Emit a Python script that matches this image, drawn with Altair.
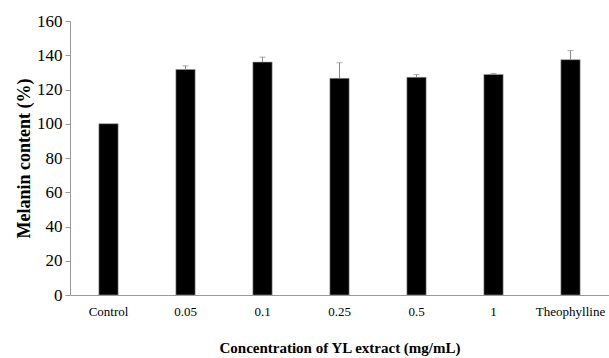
import altair as alt
import pandas as pd

categories = ["Control", "0.05", "0.1", "0.25", "0.5", "1", "Theophylline"]
values = [100, 131.7, 136.0, 126.5, 127.1, 128.8, 137.4]
errors = [0, 2.1, 2.9, 9.1, 1.6, 0.6, 5.3]
y_ticks = [0, 20, 40, 60, 80, 100, 120, 140, 160]

df = pd.DataFrame({"cat": categories, "val": values, "err": errors})
df["top"] = df["val"] + df["err"]
err_df = df[df["err"] > 0]

FONT = "Liberation Serif"
xscale = alt.Scale(paddingInner=0.75, paddingOuter=0.375)
yscale = alt.Scale(domain=[0, 160], nice=False)
yaxis = alt.Axis(values=y_ticks, title="Melanin content (%)")
xaxis = alt.Axis(title="Concentration of YL extract (mg/mL)")

bars = alt.Chart(df).mark_bar(color="black", stroke="#9a9a9a", strokeWidth=0.6).encode(
    x=alt.X("cat:N", sort=categories, scale=xscale, axis=xaxis),
    y=alt.Y("val:Q", scale=yscale, axis=yaxis),
)

rules = alt.Chart(err_df).mark_rule(color="#888888", strokeWidth=1).encode(
    x=alt.X("cat:N", sort=categories, scale=xscale, axis=xaxis),
    y=alt.Y("val:Q", scale=yscale, axis=yaxis),
    y2="top:Q",
)
caps = alt.Chart(err_df).mark_tick(color="#888888", thickness=1, size=6).encode(
    x=alt.X("cat:N", sort=categories, scale=xscale, axis=xaxis),
    y=alt.Y("top:Q", scale=yscale, axis=yaxis),
)

chart = alt.layer(bars, rules, caps).properties(
    width=539, height=274,
    autosize=alt.AutoSizeParams(type="none"),
    padding={"left": 70, "top": 21, "right": 0, "bottom": 63},
    background="white",
).configure_view(stroke=None).configure_axis(
    grid=False, domainColor="#999999", tickColor="#999999",
    labelColor="black", titleColor="black", labelFont=FONT, titleFont=FONT,
    titleFontWeight="bold", labelOverlap=False,
).configure_axisX(
    labelAngle=0, ticks=False, labelFontSize=13, labelPadding=10,
    titleFontSize=15, titlePadding=22,
).configure_axisY(
    tickSize=5, labelFontSize=17, labelPadding=3, labelFlush=False,
    titleFontSize=18, titlePadding=3,
)

chart.save("out.html", embed_options={"renderer": "svg", "actions": False})
